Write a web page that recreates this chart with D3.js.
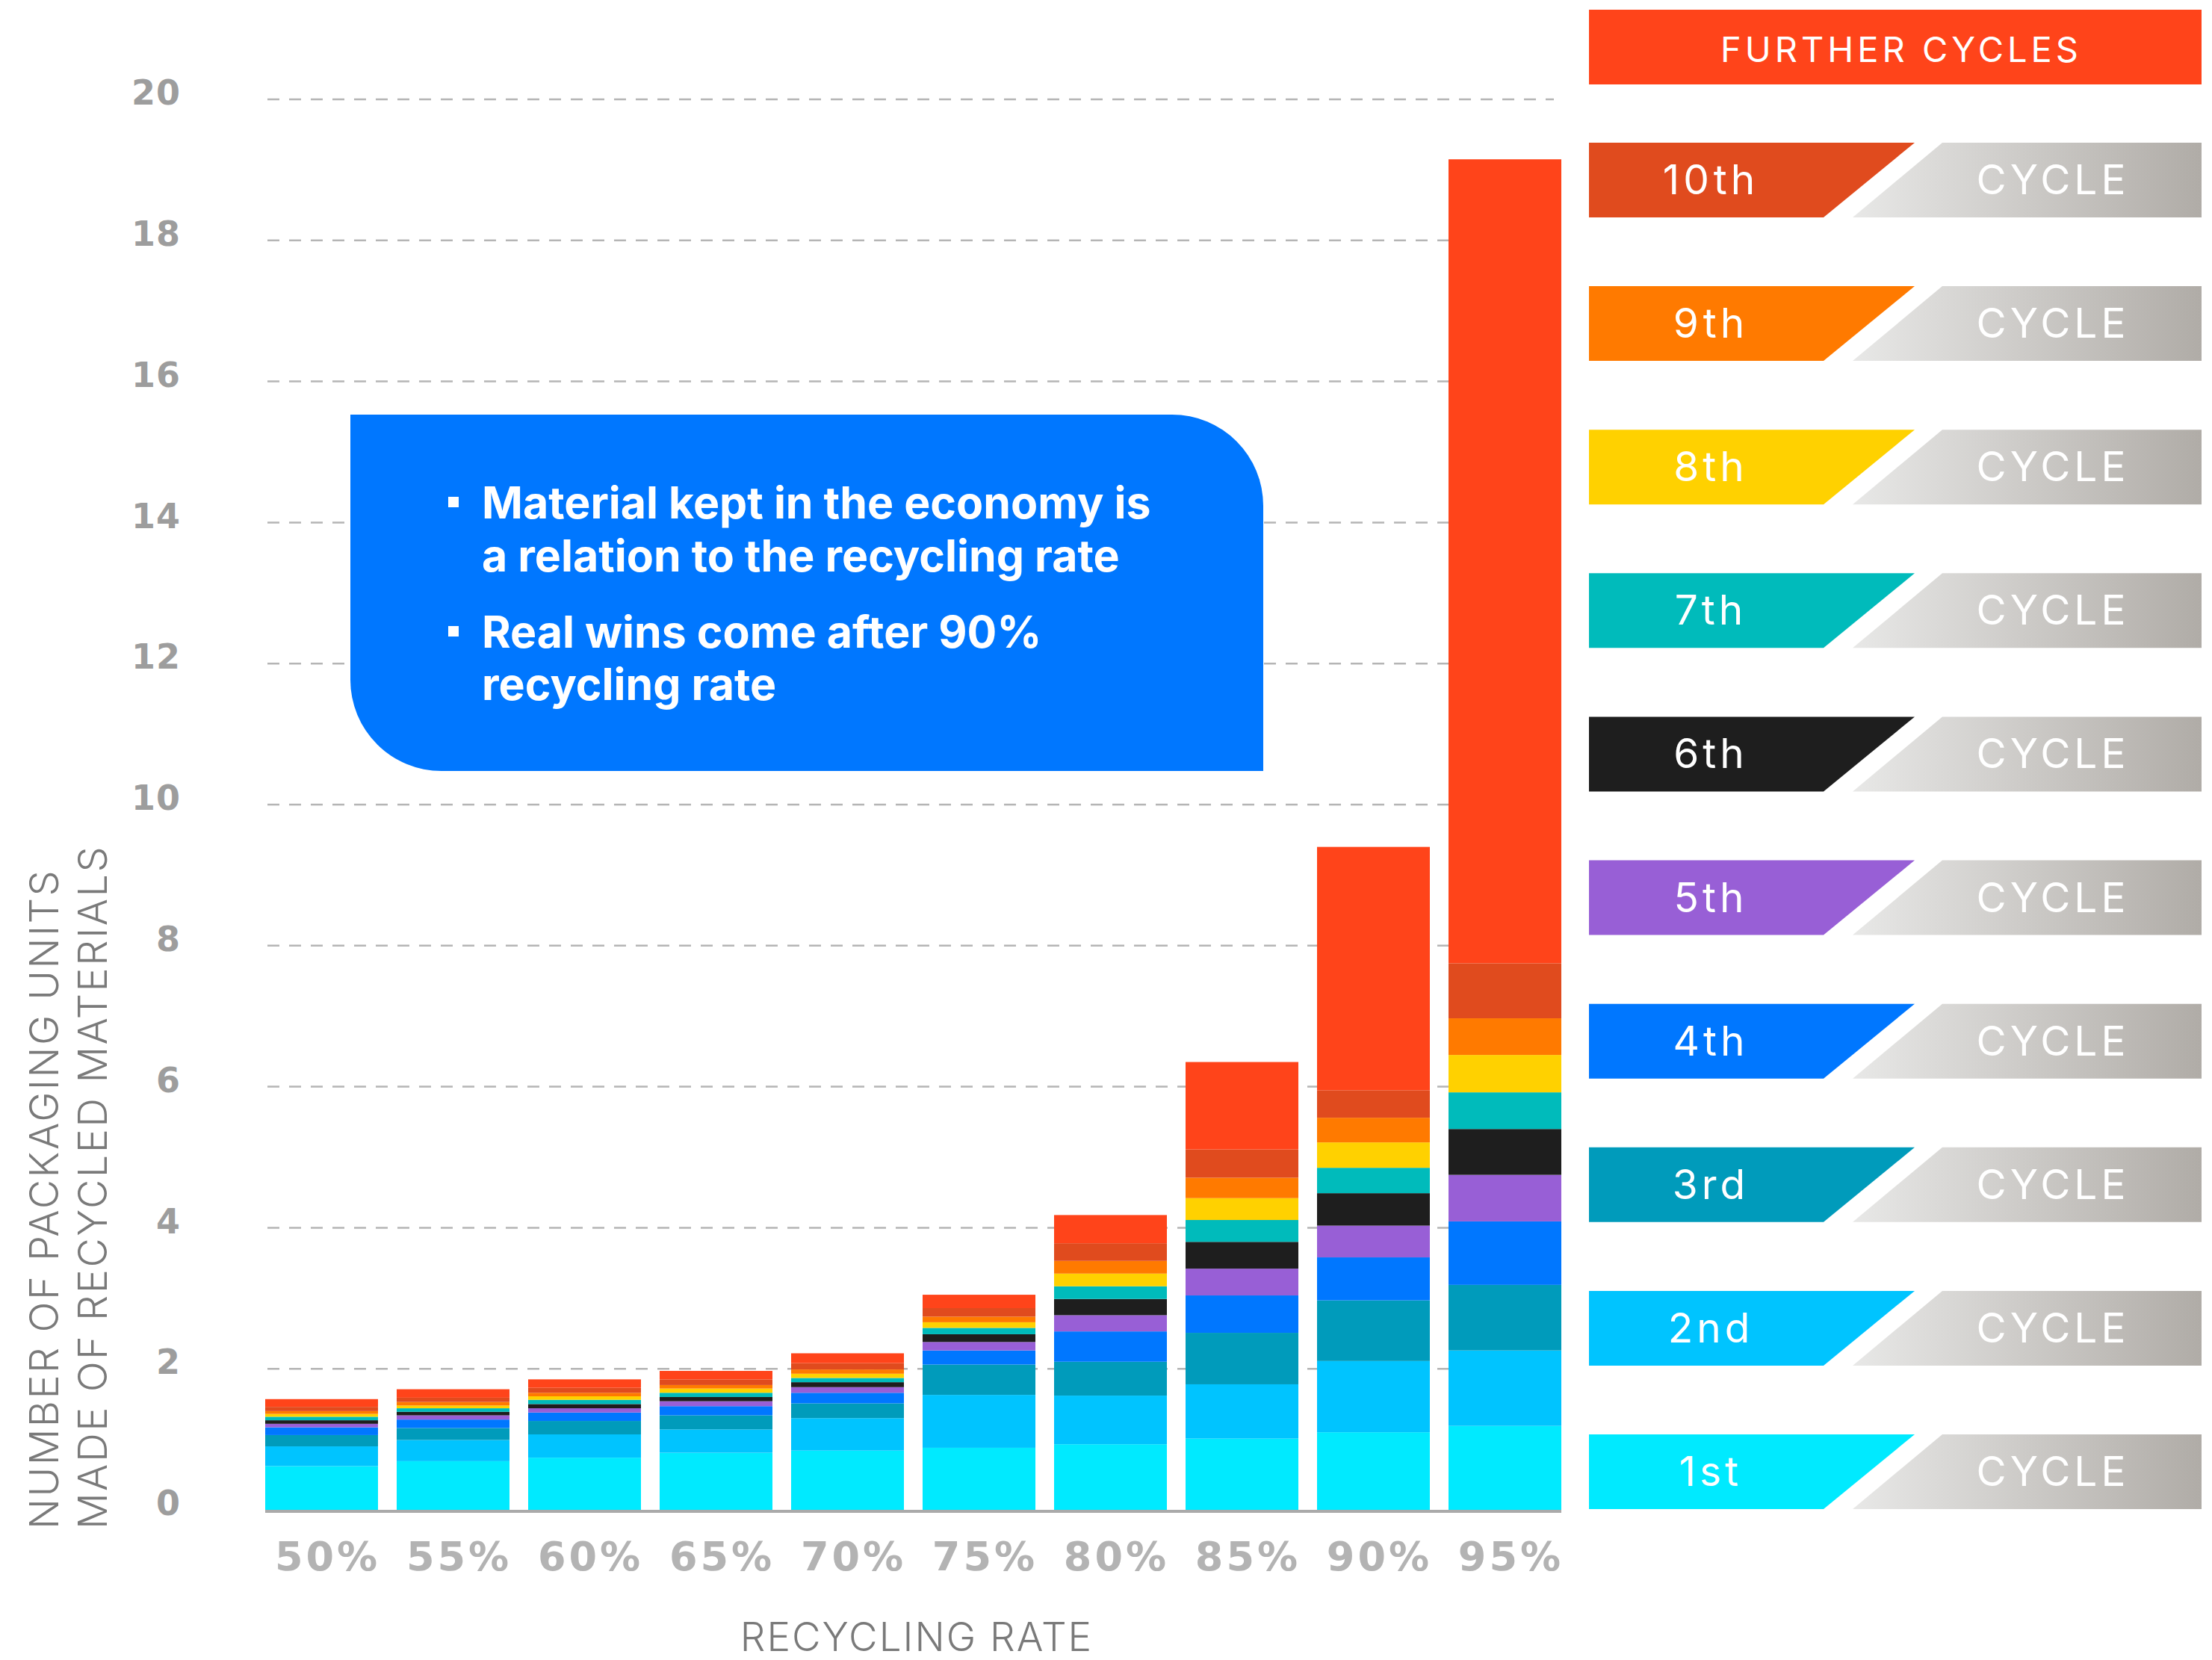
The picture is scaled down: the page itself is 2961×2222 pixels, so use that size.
<!DOCTYPE html>
<html>
<head>
<meta charset="utf-8">
<script src="https://cdn.jsdelivr.net/npm/d3@7/dist/d3.min.js"></script>
<style>
  body { margin: 0; background: #fff; }
</style>
</head>
<body>
<svg id="chart" width="2961" height="2222"></svg>
<script>
// recycling rates on the x axis
const rates = ['50%', '55%', '60%', '65%', '70%', '75%', '80%', '85%', '90%', '95%'];

// packaging units per cycle
const cycle1  = [0.62, 0.69, 0.74, 0.81, 0.84, 0.88, 0.93, 1.01, 1.10, 1.19];
const cycle2  = [0.28, 0.30, 0.33, 0.33, 0.46, 0.75, 0.69, 0.77, 1.01, 1.07];
const cycle3  = [0.16, 0.17, 0.19, 0.20, 0.21, 0.43, 0.48, 0.73, 0.86, 0.93];
const cycle4  = [0.11, 0.12, 0.12, 0.13, 0.15, 0.20, 0.43, 0.53, 0.61, 0.90];
const cycle5  = [0.05, 0.06, 0.06, 0.07, 0.08, 0.12, 0.23, 0.38, 0.45, 0.66];
const cycle6  = [0.05, 0.05, 0.06, 0.06, 0.07, 0.11, 0.23, 0.38, 0.46, 0.65];
const cycle7  = [0.05, 0.05, 0.06, 0.06, 0.06, 0.09, 0.18, 0.31, 0.36, 0.52];
const cycle8  = [0.04, 0.04, 0.05, 0.06, 0.06, 0.08, 0.18, 0.31, 0.36, 0.53];
const cycle9  = [0.04, 0.05, 0.05, 0.05, 0.06, 0.08, 0.18, 0.29, 0.35, 0.52];
const cycle10 = [0.06, 0.06, 0.07, 0.08, 0.09, 0.12, 0.25, 0.40, 0.39, 0.78];
const further = [0.11, 0.12, 0.12, 0.12, 0.14, 0.19, 0.40, 1.24, 3.45, 11.40];

const cycleLabels = ['1st', '2nd', '3rd', '4th', '5th', '6th', '7th', '8th', '9th', '10th'];
const yTicks = [0, 2, 4, 6, 8, 10, 12, 14, 16, 18, 20];
const notes = [
  ['Material kept in the economy is', 'a relation to the recycling rate'],
  ['Real wins come after 90%', 'recycling rate']
];

const colors = ['#00eaff', '#00c4ff', '#009bbb', '#0077ff', '#985fd6', '#1e1e1e',
                '#00bbbb', '#ffd100', '#ff7a00', '#e04b1e', '#ff441a'];

const svg = d3.select('#chart');
const width = 2961, height = 2222;

svg.append('rect')
  .attr('width', width)
  .attr('height', height)
  .attr('fill', 'white');

// build table for the stack
const keys = ['c1', 'c2', 'c3', 'c4', 'c5', 'c6', 'c7', 'c8', 'c9', 'c10', 'further'];
const seriesValues = [cycle1, cycle2, cycle3, cycle4, cycle5, cycle6, cycle7, cycle8, cycle9, cycle10, further];
const table = rates.map((rate, i) => {
  const row = { rate };
  keys.forEach((k, j) => { row[k] = seriesValues[j][i]; });
  return row;
});
const stacked = d3.stack().keys(keys)(table);

const xScale = d3.scaleBand()
  .domain(rates)
  .range([355, 2090])
  .paddingInner(0.142)
  .paddingOuter(0);

const yScale = d3.scaleLinear()
  .domain([0, 20])
  .range([2021, 133]);

// dashed gridlines
svg.selectAll('line.grid')
  .data(yTicks.filter(d => d > 0))
  .enter()
  .append('line')
  .attr('class', 'grid')
  .attr('x1', 358)
  .attr('x2', 2080)
  .attr('y1', d => yScale(d))
  .attr('y2', d => yScale(d))
  .attr('stroke', '#b5b5b5')
  .attr('stroke-width', 2.5)
  .attr('stroke-dasharray', '16,13');

// note box (square top-left / bottom-right corners)
const bx0 = 469, by0 = 555, bx1 = 1691, by1 = 1032, r = 122;
svg.append('path')
  .attr('d', `M${bx0},${by0} H${bx1 - r} A${r},${r} 0 0 1 ${bx1},${by0 + r} V${by1} H${bx0 + r} A${r},${r} 0 0 1 ${bx0},${by1 - r} Z`)
  .attr('fill', '#0077ff');

const noteBaselines = [[694, 765], [867, 937]];
notes.forEach((lines, i) => {
  svg.append('rect')
    .attr('x', 600)
    .attr('y', noteBaselines[i][0] - 29)
    .attr('width', 14)
    .attr('height', 14)
    .attr('fill', 'white');
  lines.forEach((line, j) => {
    svg.append('text')
      .attr('x', 645)
      .attr('y', noteBaselines[i][j])
      .attr('fill', 'white')
      .attr('font-family', 'Inter, sans-serif')
      .attr('font-weight', 700)
      .attr('font-size', 59)
      .text(line);
  });
});

// stacked bars
svg.selectAll('g.layer')
  .data(stacked)
  .enter()
  .append('g')
  .attr('class', 'layer')
  .attr('fill', (d, i) => colors[i])
  .selectAll('rect')
  .data(d => d)
  .enter()
  .append('rect')
  .attr('x', d => xScale(d.data.rate))
  .attr('y', d => yScale(d[1]))
  .attr('width', xScale.bandwidth())
  .attr('height', d => yScale(d[0]) - yScale(d[1]));

// baseline
svg.append('line')
  .attr('x1', 355)
  .attr('x2', 2090)
  .attr('y1', yScale(0) + 2)
  .attr('y2', yScale(0) + 2)
  .attr('stroke', '#aaaaaa')
  .attr('stroke-width', 4);

// axes
const yAxis = d3.axisLeft(yScale).tickValues(yTicks).tickSize(0).tickPadding(0);
const yG = svg.append('g')
  .attr('transform', 'translate(242, -8)')
  .call(yAxis);
yG.select('.domain').remove();
yG.selectAll('text')
  .attr('fill', '#9d9d9d')
  .attr('font-family', '"DejaVu Sans", sans-serif')
  .attr('font-weight', 700)
  .attr('font-size', 46)
  .attr('letter-spacing', 1);

const xAxis = d3.axisBottom(xScale).tickSize(0).tickPadding(43);
const xG = svg.append('g')
  .attr('transform', `translate(0, ${yScale(0)})`)
  .call(xAxis);
xG.select('.domain').remove();
xG.selectAll('text')
  .attr('fill', '#b3b3b3')
  .attr('font-family', '"DejaVu Sans", sans-serif')
  .attr('font-weight', 700)
  .attr('font-size', 54)
  .attr('letter-spacing', 4)
  .attr('dx', 8);

// axis titles
svg.append('text')
  .attr('x', 1227)
  .attr('y', 2210)
  .attr('text-anchor', 'middle')
  .attr('fill', '#7a7a7a')
  .attr('font-family', 'Inter, sans-serif')
  .attr('font-weight', 300)
  .attr('font-size', 53)
  .attr('letter-spacing', 2)
  .text('RECYCLING RATE');

const yTitle = ['NUMBER OF PACKAGING UNITS', 'MADE OF RECYCLED MATERIALS'];
svg.selectAll('text.ytitle')
  .data(yTitle)
  .enter()
  .append('text')
  .attr('class', 'ytitle')
  .attr('transform', (d, i) => `translate(${i === 0 ? 78 : 143}, 2047) rotate(-90)`)
  .attr('fill', '#7a7a7a')
  .attr('font-family', 'Inter, sans-serif')
  .attr('font-weight', 300)
  .attr('font-size', 54)
  .attr('letter-spacing', 2.5)
  .text(d => d);

// legend
const defs = svg.append('defs');
const grad = defs.append('linearGradient').attr('id', 'cycleGrad');
grad.append('stop').attr('offset', '0%').attr('stop-color', '#e8e8e7');
grad.append('stop').attr('offset', '100%').attr('stop-color', '#b0aca7');

const lx0 = 2127, lx1 = 2947, rowH = 100;
svg.append('rect')
  .attr('x', lx0)
  .attr('y', 13)
  .attr('width', lx1 - lx0)
  .attr('height', rowH)
  .attr('fill', colors[10]);
svg.append('text')
  .attr('x', 2545)
  .attr('y', 83)
  .attr('text-anchor', 'middle')
  .attr('fill', 'white')
  .attr('font-family', 'Inter, sans-serif')
  .attr('font-weight', 400)
  .attr('font-size', 47)
  .attr('letter-spacing', 5)
  .text('FURTHER CYCLES');

const legendY = d3.scaleLinear().domain([0, 9]).range([1920, 191]);
const rows = svg.selectAll('g.legend')
  .data(cycleLabels)
  .enter()
  .append('g')
  .attr('class', 'legend')
  .attr('transform', (d, i) => `translate(0, ${legendY(i)})`);

rows.append('path')
  .attr('d', `M${lx0},0 H2563 L2441,${rowH} H${lx0} Z`)
  .attr('fill', (d, i) => colors[i]);
rows.append('path')
  .attr('d', `M2600,0 H${lx1} V${rowH} H2480 Z`)
  .attr('fill', 'url(#cycleGrad)');
rows.append('text')
  .attr('x', 2290)
  .attr('y', 69)
  .attr('text-anchor', 'middle')
  .attr('fill', 'white')
  .attr('font-family', 'Inter, sans-serif')
  .attr('font-weight', 400)
  .attr('font-size', 55)
  .attr('letter-spacing', 5)
  .text(d => d);
rows.append('text')
  .attr('x', 2748)
  .attr('y', 69)
  .attr('text-anchor', 'middle')
  .attr('fill', 'white')
  .attr('font-family', 'Inter, sans-serif')
  .attr('font-weight', 400)
  .attr('font-size', 55)
  .attr('letter-spacing', 5)
  .text('CYCLE');
</script>
</body>
</html>
